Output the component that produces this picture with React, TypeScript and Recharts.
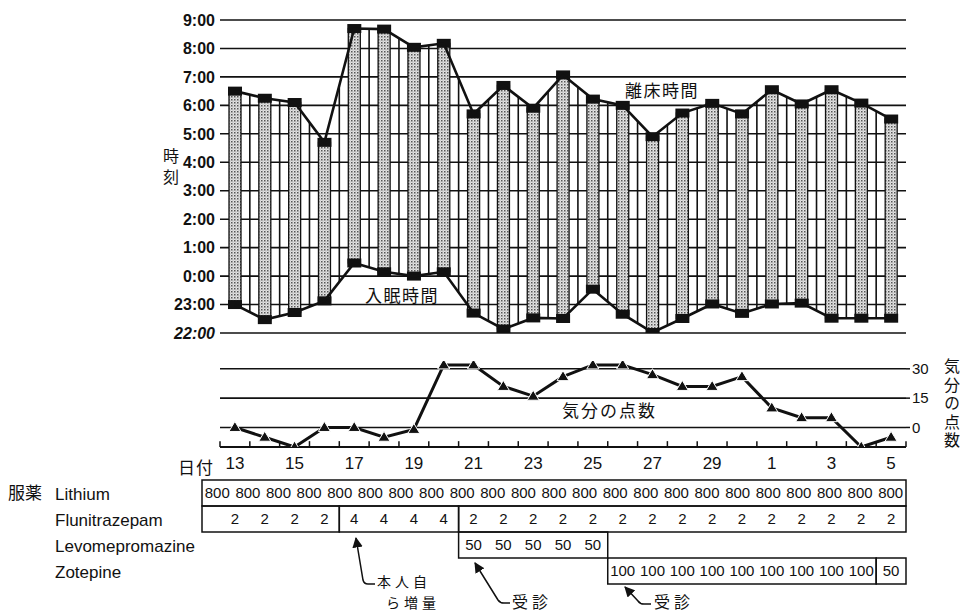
import {
  ComposedChart,
  Bar,
  Line,
  XAxis,
  YAxis,
  CartesianGrid,
  ReferenceLine,
} from "recharts"

// 日付 (13日〜翌月5日)
const days = [
  "13", "14", "15", "16", "17", "18", "19", "20", "21", "22", "23", "24",
  "25", "26", "27", "28", "29", "30", "1", "2", "3", "4", "5",
]

// 離床時間 (時, 0:00 = 0)
const wakeTimes = [
  6.5, 6.25, 6.1, 4.7, 8.7, 8.68, 8.04, 8.18, 5.7, 6.7, 5.9, 7.07,
  6.22, 6.0, 4.9, 5.73, 6.07, 5.7, 6.55, 6.05, 6.55, 6.08, 5.52,
]

// 入眠時間 (時, 23:00 = -1)
const bedTimes = [
  -1.0, -1.53, -1.28, -0.87, 0.46, 0.15, 0.0, 0.15, -1.3, -1.86, -1.47, -1.49,
  -0.46, -1.34, -1.98, -1.49, -0.98, -1.31, -0.98, -0.95, -1.48, -1.48, -1.48,
]

// 気分の点数
const moodScores = [
  0, -5, -10, 0, 0, -5, -1, 32, 32, 21, 16, 26,
  32, 32, 27, 21, 21, 26, 10, 5, 5, -10, -5,
]

const hourTicks = [-2, -1, 0, 1, 2, 3, 4, 5, 6, 7, 8, 9]
const moodTicks = [0, 15, 30]
const dateLabelIdx = [0, 2, 4, 6, 8, 10, 12, 14, 16, 18, 20, 22]

// 服薬 (mg)
const lithiumDoses = [
  800, 800, 800, 800, 800, 800, 800, 800, 800, 800, 800, 800,
  800, 800, 800, 800, 800, 800, 800, 800, 800, 800, 800,
]
const flunitrazepamDoses = [
  2, 2, 2, 2, 4, 4, 4, 4, 2, 2, 2, 2,
  2, 2, 2, 2, 2, 2, 2, 2, 2, 2, 2,
]
const levomepromazineDoses = [
  null, null, null, null, null, null, null, null, 50, 50, 50, 50,
  50, null, null, null, null, null, null, null, null, null, null,
]
const zotepineDoses = [
  null, null, null, null, null, null, null, null, null, null, null, null,
  null, 100, 100, 100, 100, 100, 100, 100, 100, 100, 50,
]

const rows = days.map((day, i) => ({
  i,
  day,
  wake: wakeTimes[i],
  bed: bedTimes[i],
  mood: moodScores[i],
}))

// boundaries between days (for grid segments and ticks)
const boundaries = [-0.5, ...days.map((_, i) => i + 0.5)]
const innerBounds = boundaries.slice(1, -1)

const PLOT_LEFT = 220
const PLOT_RIGHT = 906
const STEP = (PLOT_RIGHT - PLOT_LEFT) / days.length
const TABLE_LEFT = 202

const JP = '"Noto Sans CJK JP", "Noto Sans", sans-serif'
const LAT = '"Liberation Sans", Arial, sans-serif'
const NARROW = '"Liberation Sans Narrow", "Liberation Sans", Arial, sans-serif'
const INK = "#111"

const fmtHour = (v: number) => `${v < 0 ? 24 + v : v}:00`

const HourTick = (props: any) => {
  const { x, y, payload } = props
  return (
    <text
      x={x}
      y={y}
      dy="0.36em"
      textAnchor="end"
      fontSize={16}
      fontWeight={700}
      fontStyle={payload.value === -2 ? "italic" : "normal"}
      fontFamily={LAT}
      fill={INK}
    >
      {fmtHour(payload.value)}
    </text>
  )
}

const SleepBar = (props: any) => {
  const { x, y, width, height } = props
  if (x == null || y == null) return null
  const top = Math.min(y, y + height)
  const h = Math.abs(height)
  const cx = x + width / 2
  return (
    <g>
      <rect x={x} y={top} width={width} height={h} fill="url(#stipple)" stroke={INK} strokeWidth={1.3} />
      <rect x={cx - 7} y={top - 4.5} width={14} height={9} fill={INK} />
      <rect x={cx - 7} y={top + h - 4.5} width={14} height={9} fill={INK} />
    </g>
  )
}

const TriangleDot = (props: any) => {
  const { cx, cy, index } = props
  if (cx == null || cy == null) return <g key={index} />
  return (
    <polygon
      key={index}
      points={`${cx},${cy - 6} ${cx + 6},${cy + 4} ${cx - 6},${cy + 4}`}
      fill={INK}
      stroke="#fff"
      strokeWidth={1}
    />
  )
}

function SleepChart() {
  return (
    <ComposedChart
      width={964}
      height={345}
      data={rows}
      margin={{ top: 20, right: 58, bottom: 12, left: 160 }}
    >
      <CartesianGrid vertical={false} stroke={INK} strokeWidth={1.6} />
      <XAxis
        type="number"
        dataKey="i"
        domain={[-0.5, 22.5]}
        ticks={boundaries}
        allowDataOverflow
        hide
      />
      <YAxis
        type="number"
        domain={[-2, 9]}
        ticks={hourTicks}
        interval={0}
        width={60}
        axisLine={false}
        tickLine={false}
        tickSize={0}
        tickMargin={5}
        tick={<HourTick />}
        allowDataOverflow
      />
      {innerBounds.map((b, k) => (
        <ReferenceLine
          key={b}
          segment={[
            { x: b, y: (bedTimes[k] + bedTimes[k + 1]) / 2 },
            { x: b, y: (wakeTimes[k] + wakeTimes[k + 1]) / 2 },
          ]}
          stroke={INK}
          strokeWidth={1.6}
        />
      ))}
      <Line dataKey="wake" stroke={INK} strokeWidth={2.6} dot={false} activeDot={false} isAnimationActive={false} />
      <Line dataKey="bed" stroke={INK} strokeWidth={2.6} dot={false} activeDot={false} isAnimationActive={false} />
      <Bar
        dataKey={(d: any) => [d.bed, d.wake]}
        barSize={12}
        shape={<SleepBar />}
        isAnimationActive={false}
      />
    </ComposedChart>
  )
}

function MoodChart() {
  return (
    <ComposedChart
      width={964}
      height={145}
      data={rows}
      margin={{ top: 21, right: 18, bottom: 8, left: 220 }}
    >
      <XAxis
        type="number"
        dataKey="i"
        domain={[-0.5, 22.5]}
        ticks={dateLabelIdx}
        interval={0}
        allowDataOverflow
        tickFormatter={(v: number) => days[v]}
        axisLine={{ stroke: INK, strokeWidth: 2 }}
        tickLine={false}
        tickSize={0}
        tickMargin={10}
        height={30}
        tick={{ fontSize: 17, fill: INK, fontFamily: NARROW }}
      />
      <YAxis
        orientation="right"
        type="number"
        domain={[-10, 34]}
        ticks={moodTicks}
        interval={0}
        allowDataOverflow
        width={40}
        axisLine={false}
        tickLine={{ stroke: INK, strokeWidth: 1.5 }}
        tickSize={4}
        tickMargin={2}
        tick={{ fontSize: 15, fill: INK, fontFamily: NARROW }}
      />
      {moodTicks.map((v) => (
        <ReferenceLine key={`h${v}`} y={v} stroke={INK} strokeWidth={1.6} />
      ))}
      {boundaries.map((b) => (
        <ReferenceLine
          key={b}
          segment={[
            { x: b, y: -10 },
            { x: b, y: -7 },
          ]}
          stroke={INK}
          strokeWidth={1.5}
        />
      ))}
      <Line
        dataKey="mood"
        stroke={INK}
        strokeWidth={3}
        dot={TriangleDot}
        activeDot={false}
        isAnimationActive={false}
      />
    </ComposedChart>
  )
}

type Dose = number | null

const medRows: { name: string; doses: Dose[]; top: number; spread?: boolean }[] = [
  { name: "Lithium", doses: lithiumDoses, top: 480, spread: true },
  { name: "Flunitrazepam", doses: flunitrazepamDoses, top: 506 },
  { name: "Levomepromazine", doses: levomepromazineDoses, top: 532 },
  { name: "Zotepine", doses: zotepineDoses, top: 558 },
]
const ROW_H = 26

function groupsOf(doses: Dose[]) {
  const out: { from: number; to: number }[] = []
  doses.forEach((d, k) => {
    if (d == null) return
    const last = out[out.length - 1]
    if (last && last.to === k && doses[k - 1] === d) last.to = k + 1
    else out.push({ from: k, to: k + 1 })
  })
  return out
}

const colLeft = (k: number) => (k === 0 ? TABLE_LEFT : PLOT_LEFT + k * STEP)

function MedTable() {
  return (
    <svg width={964} height={613} style={{ position: "absolute", left: 0, top: 0, pointerEvents: "none" }}>
      <defs>
        <marker id="arr" viewBox="0 0 10 10" refX={9} refY={5} markerWidth={7} markerHeight={7} orient="auto-start-reverse">
          <path d="M0,0 L10,5 L0,10 z" fill={INK} />
        </marker>
      </defs>
      <text x={8} y={493} dy="0.35em" fontSize={17} fontFamily={JP} fill={INK}>服薬</text>
      {medRows.map((r) => {
        const cy = r.top + ROW_H / 2
        const groups = groupsOf(r.doses)
        return (
          <g key={r.name}>
            <text x={55} y={cy + 1} dy="0.35em" fontSize={17} fontFamily={LAT} fill={INK}>
              {r.name}
            </text>
            {groups.map((g) => (
              <rect
                key={g.from}
                x={colLeft(g.from)}
                y={r.top}
                width={PLOT_LEFT + g.to * STEP - colLeft(g.from)}
                height={ROW_H}
                fill="none"
                stroke={INK}
                strokeWidth={1.5}
              />
            ))}
            {r.doses.map((d, k) => {
              if (d == null) return null
              const x = r.spread
                ? TABLE_LEFT + ((PLOT_RIGHT - TABLE_LEFT) / r.doses.length) * (k + 0.5)
                : PLOT_LEFT + STEP * (k + 0.5)
              return (
                <text key={k} x={x} y={cy} dy="0.36em" textAnchor="middle" fontSize={15} fontFamily={NARROW} fill={INK}>
                  {d}
                </text>
              )
            })}
          </g>
        )
      })}
      <path d="M356,538 L363,580 Q364,584 368,584 L375,584" fill="none" stroke={INK} strokeWidth={1.5} markerStart="url(#arr)" />
      <text x={377} y={582.5} dy="0.35em" fontSize={14} letterSpacing={4} fontFamily={JP} fill={INK}>本人自</text>
      <text x={386} y={603} dy="0.35em" fontSize={14} letterSpacing={4} fontFamily={JP} fill={INK}>ら増量</text>
      <path d="M475,563 L498,600 Q500,603 504,603 L510,603" fill="none" stroke={INK} strokeWidth={1.5} markerStart="url(#arr)" />
      <text x={512} y={602} dy="0.35em" fontSize={16} letterSpacing={4} fontFamily={JP} fill={INK}>受診</text>
      <path d="M625,587 L638,601 Q640,604 644,604 L651,604" fill="none" stroke={INK} strokeWidth={1.5} markerStart="url(#arr)" />
      <text x={654} y={602} dy="0.35em" fontSize={16} letterSpacing={4} fontFamily={JP} fill={INK}>受診</text>
    </svg>
  )
}

const Txt = ({ left, cy, size, children, spacing = 0, family = JP }: any) => (
  <div
    style={{
      position: "absolute",
      left,
      top: cy - size / 2,
      fontSize: size,
      lineHeight: `${size}px`,
      letterSpacing: spacing,
      fontFamily: family,
      color: INK,
      whiteSpace: "nowrap",
    }}
  >
    {children}
  </div>
)

const VTxt = ({ left, top, size, advance, children }: any) => (
  <div
    style={{
      position: "absolute",
      left,
      top,
      fontSize: size,
      lineHeight: `${size}px`,
      letterSpacing: advance - size,
      writingMode: "vertical-rl",
      fontFamily: JP,
      color: INK,
      whiteSpace: "nowrap",
    }}
  >
    {children}
  </div>
)

export default function App() {
  return (
    <div style={{ position: "absolute", left: 0, top: 0, width: 964, height: 613, background: "#fff", overflow: "hidden" }}>
      <svg width={0} height={0} style={{ position: "absolute" }}>
        <defs>
          <pattern id="stipple" width={3} height={3} patternUnits="userSpaceOnUse">
            <rect width={3} height={3} fill="#e4e4e4" />
            <rect width={1.5} height={1.5} fill="#555" />
            <rect x={1.5} y={1.5} width={1} height={1} fill="#999" />
          </pattern>
        </defs>
      </svg>
      <div style={{ position: "absolute", left: 0, top: 0 }}>
        <SleepChart />
      </div>
      <div style={{ position: "absolute", left: 0, top: 340 }}>
        <MoodChart />
      </div>
      <MedTable />
      <VTxt left={163} top={148} size={16} advance={21}>時刻</VTxt>
      <Txt left={625} cy={89} size={17} spacing={1.5}>離床時間</Txt>
      <Txt left={365} cy={294} size={17} spacing={1.5}>入眠時間</Txt>
      <Txt left={562} cy={409} size={17} spacing={2}>気分の点数</Txt>
      <Txt left={178} cy={466} size={17} spacing={1}>日付</Txt>
      <VTxt left={944} top={358} size={16} advance={18.6}>気分の点数</VTxt>
    </div>
  )
}
